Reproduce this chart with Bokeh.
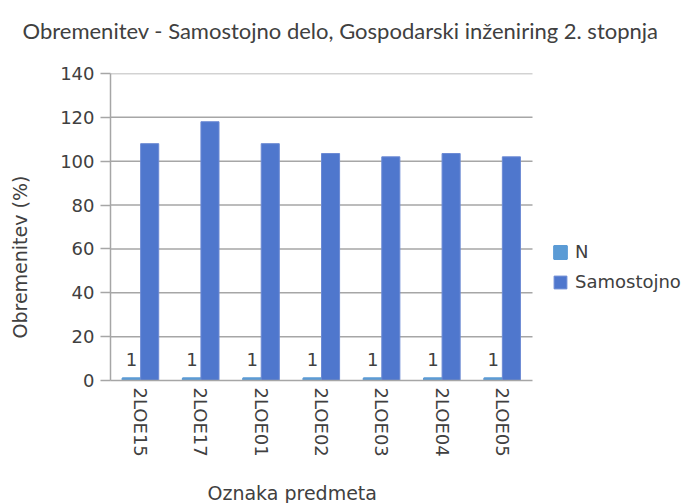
import math
from bokeh.plotting import figure
from bokeh.models import (ColumnDataSource, Range1d, FixedTicker,
                          Legend, LegendItem, Title)
from bokeh.core.properties import value
from bokeh.embed import file_html
from bokeh.resources import INLINE

categories = ["2LOE15", "2LOE17", "2LOE01", "2LOE02", "2LOE03", "2LOE04", "2LOE05"]
n_values = [1, 1, 1, 1, 1, 1, 1]
samostojno_values = [108, 118, 108, 103.5, 102, 103.5, 102]
y_ticks = [0, 20, 40, 60, 80, 100, 120, 140]
series_names = ["N", "Samostojno"]

title_text = "Obremenitev - Samostojno delo, Gospodarski inženiring 2. stopnja"
x_label = "Oznaka predmeta"
y_label = "Obremenitev (%)"

TEXT = "#404040"
GRID = "#a6a6a6"
N_COLOR = "#5b9bd5"
S_COLOR = "#4f77cd"
FONT = "DejaVu Sans"

idx = list(range(len(categories)))
BAR_W = 0.3
source = ColumnDataSource(dict(
    xn=[i - BAR_W / 2 for i in idx], xs=[i + BAR_W / 2 for i in idx],
    n=n_values, s=samostojno_values, n_txt=[str(v) for v in n_values]))

n_cat = len(categories)
# plot area extends to the right edge so that the legend fits inside it;
# the category part covers the same width as in the original (x -0.5 .. 6.5)
x_end = -0.5 + n_cat * (689 - 110) / 422.0

p = figure(width=689, height=503, x_range=Range1d(-0.5, x_end),
           y_range=Range1d(0, 140), output_backend="svg", toolbar_location=None,
           min_border_left=110, min_border_right=0, min_border_top=73,
           min_border_bottom=121)
p.outline_line_color = None
p.background_fill_color = "white"


def spacer(size):
    return Title(text=" ", text_font_size="1px", standoff=size)


# title
p.add_layout(spacer(27), "above")
p.title.text = title_text
p.title.align = "left"
p.title.offset = -88
p.title.standoff = 0
p.title.text_font = "Lato"
p.title.text_font_size = "22px"
p.title.text_font_style = "normal"
p.title.text_color = TEXT

# grid lines only over the category part
p.xgrid.grid_line_color = None
p.ygrid.grid_line_color = None
grid_y = [t for t in y_ticks if t > 0]
p.segment(x0=[-0.5] * len(grid_y), x1=[n_cat - 0.5] * len(grid_y), y0=grid_y, y1=grid_y,
          line_color=GRID, line_width=1.5)

# y axis
p.yaxis.ticker = FixedTicker(ticks=y_ticks)
p.yaxis.axis_line_color = GRID
p.yaxis.axis_line_width = 1.5
p.yaxis.major_tick_line_color = GRID
p.yaxis.major_tick_line_width = 1.5
p.yaxis.major_tick_out = 10
p.yaxis.major_tick_in = 0
p.yaxis.minor_tick_line_color = None
p.yaxis.major_label_standoff = 6
p.yaxis.major_label_text_font = FONT
p.yaxis.major_label_text_font_size = "18px"
p.yaxis.major_label_text_color = TEXT

# x axis (categories)
p.xaxis.ticker = FixedTicker(ticks=idx)
p.xaxis.major_label_overrides = {i: c for i, c in zip(idx, categories)}
p.xaxis.bounds = (-0.5, n_cat - 0.5)
p.xaxis.axis_line_color = GRID
p.xaxis.axis_line_width = 1.5
p.xaxis.major_tick_line_color = None
p.xaxis.major_tick_out = 0
p.xaxis.major_tick_in = 0
p.xaxis.minor_tick_line_color = None
p.xaxis.major_label_orientation = -math.pi / 2
p.xaxis.major_label_standoff = 7
p.xaxis.major_label_text_font = FONT
p.xaxis.major_label_text_font_size = "18px"
p.xaxis.major_label_text_color = TEXT

# axis titles
p.add_layout(spacer(24), "left")
p.add_layout(Title(text=y_label, align="left", offset=42, standoff=0,
                   text_font=FONT, text_font_size="19px", text_font_style="normal",
                   text_color=TEXT), "left")
p.add_layout(spacer(17), "below")
p.add_layout(Title(text=x_label, align="left", offset=97, standoff=0,
                   text_font=FONT, text_font_size="19px", text_font_style="normal",
                   text_color=TEXT), "below")

# bars
rn = p.vbar(x="xn", top="n", width=BAR_W, source=source,
            fill_color=N_COLOR, line_color=N_COLOR, line_width=2)
rs = p.vbar(x="xs", top="s", width=BAR_W, source=source,
            fill_color=S_COLOR, line_color="#6c8ad4", line_width=1)

# data labels for N
p.text(x="xn", y="n", text="n_txt", source=source,
       text_align="center", text_baseline="bottom", y_offset=-12,
       text_font=value(FONT), text_font_size="18px", text_color=TEXT)

legend = Legend(items=[LegendItem(label=series_names[0], renderers=[rn]),
                       LegendItem(label=series_names[1], renderers=[rs])],
                location=(442, 88), orientation="vertical",
                glyph_width=16, glyph_height=16, label_standoff=7,
                label_height=16, spacing=9, padding=0, margin=0,
                border_line_color=None, background_fill_alpha=0,
                label_text_font=FONT, label_text_font_size="18px",
                label_text_color=TEXT)
p.add_layout(legend)

open("out.html", "w").write(file_html(p, INLINE))
